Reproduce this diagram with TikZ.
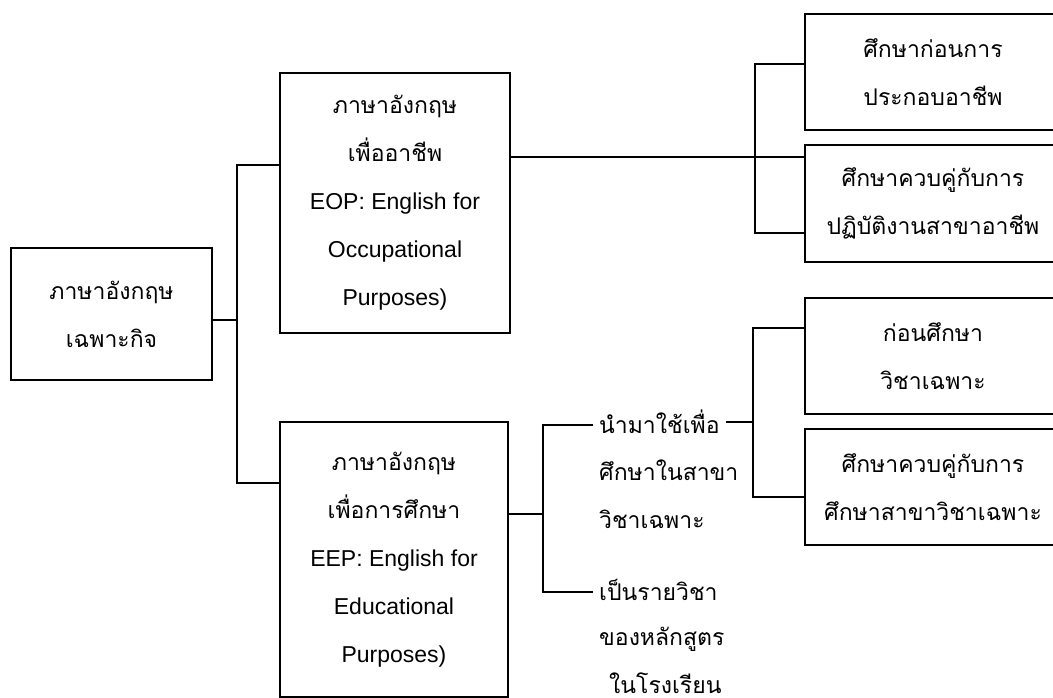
\documentclass[tikz,border=0pt]{standalone}
\usepackage{fontspec}
\setmainfont[Script=Thai]{Loma}
\newfontfamily\engfont{Liberation Sans}
\newcommand{\eng}[1]{{\engfont\fontsize{23}{48}\selectfont #1}}
\usepackage{tikz}
\usetikzlibrary{positioning}
\pgfdeclarelayer{nodelayer}
\pgfdeclarelayer{edgelayer}
\pgfsetlayers{nodelayer,edgelayer,main}
\tikzset{
  box/.style={draw, line width=1.5pt, align=center, inner sep=0pt,
    font=\fontsize{23}{48}\selectfont},
  txt/.style={align=left, inner sep=0pt, font=\fontsize{23}{48}\selectfont},
  line/.style={line width=1.5pt}
}
\begin{document}
\begin{tikzpicture}[x=1pt, y=-1pt]
  \useasboundingbox (0, 0) rectangle (1053, 698);
  \begin{pgfonlayer}{nodelayer}
    \node [box, minimum width=201pt, minimum height=132pt] (0) at (111.5, 314) {ภาษาอังกฤษ\\เฉพาะกิจ};
    \node [box, minimum width=230pt, minimum height=260pt] (1) at (395, 203) {ภาษาอังกฤษ\\เพื่ออาชีพ\\\eng{EOP: English for}\\\eng{Occupational}\\\eng{Purposes)}};
    \node [box, minimum width=228pt, minimum height=275pt] (2) at (394, 559.5) {ภาษาอังกฤษ\\เพื่อการศึกษา\\\eng{EEP: English for}\\\eng{Educational}\\\eng{Purposes)}};
    \node [box, minimum width=256pt, minimum height=116pt] (3) at (933, 72) {ศึกษาก่อนการ\\ประกอบอาชีพ};
    \node [box, minimum width=256pt, minimum height=117pt] (4) at (933, 203.5) {ศึกษาควบคู่กับการ\\ปฏิบัติงานสาขาอาชีพ};
    \node [box, minimum width=256pt, minimum height=116pt] (5) at (933, 356) {ก่อนศึกษา\\วิชาเฉพาะ};
    \node [box, minimum width=256pt, minimum height=116pt] (6) at (933, 487) {ศึกษาควบคู่กับการ\\ศึกษาสาขาวิชาเฉพาะ};
    \node [txt, anchor=west, inner xsep=6pt] (7) at (593, 422) {นำมาใช้เพื่อ};
    \node [txt, anchor=west] (8) at (599, 494) {ศึกษาในสาขา\\วิชาเฉพาะ};
    \node [txt, anchor=west, inner xsep=6pt] (9) at (593, 590) {เป็นรายวิชา};
    \node [txt, anchor=west] (10) at (599, 660) {ของหลักสูตร\\\hspace*{10pt}ในโรงเรียน};
    \node [] (11) at (237, 320) {};
    \node [] (12) at (237, 165) {};
    \node [] (13) at (237, 483) {};
    \node [] (14) at (755, 157) {};
    \node [] (15) at (755, 64) {};
    \node [] (16) at (755, 233) {};
    \node [] (17) at (543, 514) {};
    \node [] (18) at (543, 425) {};
    \node [] (19) at (543, 592) {};
    \node [] (20) at (753, 422) {};
    \node [] (21) at (753, 328) {};
    \node [] (22) at (753, 497) {};
  \end{pgfonlayer}
  \begin{pgfonlayer}{edgelayer}
    \draw [line] (0.east |- 11.center) to (11.center);
    \draw [line] (12.center -| 1.west) to (12.center) to (13.center) to (13.center -| 2.west);
    \draw [line] (1.east |- 14.center) to (14.center -| 4.west);
    \draw [line] (15.center -| 3.west) to (15.center) to (16.center) to (16.center -| 4.west);
    \draw [line] (2.east |- 17.center) to (17.center);
    \draw [line] (18.center -| 7.west) to (18.center) to (19.center) to (19.center -| 9.west);
    \draw [line] (7.east |- 20.center) to (20.center);
    \draw [line] (21.center -| 5.west) to (21.center) to (22.center) to (22.center -| 6.west);
  \end{pgfonlayer}
\end{tikzpicture}
\end{document}
